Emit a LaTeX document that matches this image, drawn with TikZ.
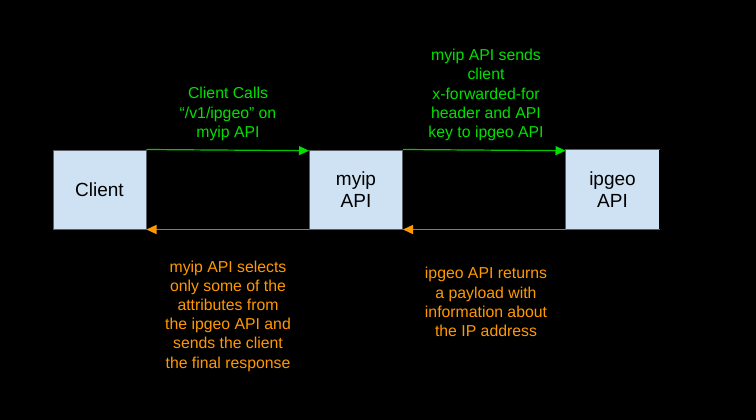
\documentclass[tikz,border=0pt]{standalone}
\usepackage{fontspec}
\setmainfont{Liberation Sans}
\usetikzlibrary{arrows.meta}
\definecolor{boxfill}{HTML}{CFE2F3}
\definecolor{boxline}{HTML}{5A5F66}
\definecolor{grntext}{RGB}{0,225,0}
\definecolor{grnline}{RGB}{0,200,0}
\definecolor{grntip}{RGB}{0,225,0}
\definecolor{orgtext}{HTML}{FF9900}
\definecolor{orgline}{HTML}{CC6F00}
\begin{document}
\begin{tikzpicture}[x=1pt,y=-1pt,
  box/.style={fill=boxfill,draw=boxline,line width=1pt,minimum width=93pt,minimum height=79pt,inner sep=0pt,align=center,font=\fontsize{19}{22}\selectfont,text=black},
  gnote/.style={align=center,text=grntext,font=\fontsize{15.8}{19.2}\selectfont,inner sep=0pt},
  onote/.style={align=center,text=orgtext,font=\fontsize{15.8}{19.2}\selectfont,inner sep=0pt},
  garrow/.style={draw=grnline,line width=1.2pt,-{Triangle[length=10pt,width=9pt,fill=grntip,color=grntip]}},
  oarrow/.style={draw=orgline,line width=1.2pt,-{Triangle[length=10pt,width=9pt,fill=orgtext,color=orgtext]}}]
\fill[black] (0,0) rectangle (756,420);
\useasboundingbox (0,0) rectangle (756,420);

\node[box] (client) at (99.5,189.5) {Client};
\node[box] (myip) at (356,189.5) {myip\\API};
\node[box,draw=none] (ipgeo) at (612.5,189.5) {ipgeo\\API};
\draw[boxline,line width=1pt] (ipgeo.north east) -- (ipgeo.north west) -- (ipgeo.south west) -- (ipgeo.south east);

\coordinate (a1s) at (client.north east);
\coordinate (a1e) at ([yshift=-1.2pt]myip.north west);
\draw[garrow] (a1s) -- (a1e);
\coordinate (a2s) at (myip.north east);
\coordinate (a2e) at ([yshift=-1.2pt]ipgeo.north west);
\draw[garrow] (a2s) -- (a2e);
\draw[oarrow] (myip.south west) -- (client.south east);
\draw[oarrow] (ipgeo.south west) -- (myip.south east);

\node[gnote] (n1) at (228,114) {Client Calls\\“/v1/ipgeo” on\\myip API};
\node[gnote] (n2) at (486,95) {myip API sends\\client\\x-forwarded-for\\header and API\\key to ipgeo API};
\node[onote] (n3) at (228,316) {myip API selects\\only some of the\\attributes from\\the ipgeo API and\\sends the client\\the final response};
\node[onote] (n4) at (486,302) {ipgeo API returns\\a payload with\\information about\\the IP address};
\end{tikzpicture}
\end{document}
